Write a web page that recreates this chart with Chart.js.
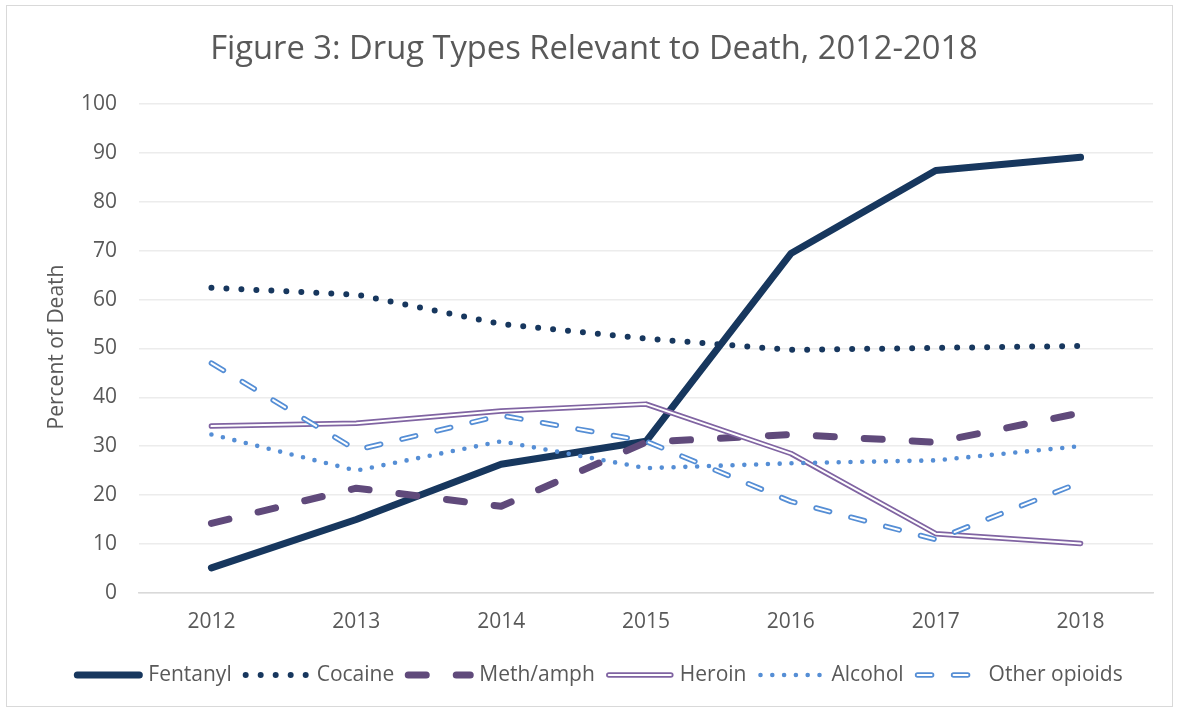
<!DOCTYPE html>
<html>
<head>
<meta charset="utf-8">
<script src="https://cdn.jsdelivr.net/npm/chart.js@4.4.1/dist/chart.umd.min.js"></script>
<style>
  body { margin: 0; background: #fff; }
  #wrap { width: 1177px; height: 711px; position: relative; }
  #frame { position: absolute; left: 6px; top: 5px; right: 4px; bottom: 4px; border: 1px solid #d9d9d9; }
</style>
</head>
<body>
<div id="wrap">
  <div id="frame"></div>
  <canvas id="myChart" width="1177" height="711"></canvas>
</div>
<script>
var years = ["2012", "2013", "2014", "2015", "2016", "2017", "2018"];
var fentanyl = [5.1, 15, 26.3, 31, 69.4, 86.4, 89.1];
var cocaine = [62.4, 61, 55, 52, 49.7, 50.1, 50.5];
var meth = [14.2, 21.4, 17.7, 30.8, 32.4, 30.8, 36.8];
var heroin = [34.1, 34.7, 37.2, 38.6, 28.5, 12.1, 10.1];
var alcohol = [32.4, 25, 31, 25.5, 26.5, 27.1, 30];
var otherOpioids = [47, 29.2, 36.3, 31, 18.7, 10.9, 22.6];
var yTicks = [0, 10, 20, 30, 40, 50, 60, 70, 80, 90, 100];

var titleText = "Figure 3: Drug Types Relevant to Death, 2012-2018";
var yTitle = "Percent of Death";
var fontName = "'Open Sans', sans-serif";
var grey = "#595959";

var navy = "#17375e";
var purpleDark = "#604a7b";
var purple = "#8064a2";
var blue = "#558ed5";

// legend entries: style drawn by the plugin below
var legendItems = [
  { label: "Fentanyl", color: navy, width: 7, dash: [] },
  { label: "Cocaine", color: navy, width: 6, dash: [0, 15] },
  { label: "Meth/amph", color: purpleDark, width: 7, dash: [18, 30] },
  { label: "Heroin", color: purple, width: 5.5, dash: [], inner: 2 },
  { label: "Alcohol", color: blue, width: 4.6, dash: [0, 11.8] },
  { label: "Other opioids", color: blue, width: 5.5, dash: [14, 22], inner: 2 }
];

const extras = {
  id: "extras",
  afterDraw(chart) {
    const ctx = chart.ctx;
    ctx.save();
    ctx.fillStyle = grey;
    ctx.textBaseline = "middle";

    // title
    ctx.font = "32.7px " + fontName;
    ctx.textAlign = "center";
    ctx.fillText(titleText, 594, 50);

    // y axis title
    ctx.save();
    ctx.translate(57, 347);
    ctx.rotate(-Math.PI / 2);
    ctx.font = "21px " + fontName;
    ctx.fillText(yTitle, 0, 0);
    ctx.restore();

    // legend
    ctx.font = "21px " + fontName;
    ctx.textAlign = "left";
    const sample = 70, gapA = 5, gapB = 10;
    let total = 0;
    legendItems.forEach(function (it) {
      total += sample + gapA + ctx.measureText(it.label).width + gapB;
    });
    let x = 603 - total / 2;
    const y = 675;
    legendItems.forEach(function (it) {
      ctx.lineCap = "round";
      ctx.strokeStyle = it.color;
      ctx.lineWidth = it.width;
      ctx.setLineDash(it.dash);
      ctx.beginPath();
      ctx.moveTo(x + 4, y);
      ctx.lineTo(x + sample - 4, y);
      ctx.stroke();
      if (it.inner) {
        ctx.strokeStyle = "#fff";
        ctx.lineWidth = it.inner;
        ctx.beginPath();
        ctx.moveTo(x + 4, y);
        ctx.lineTo(x + sample - 4, y);
        ctx.stroke();
      }
      ctx.setLineDash([]);
      ctx.fillText(it.label, x + sample + gapA, y);
      x += sample + gapA + ctx.measureText(it.label).width + gapB;
    });
    ctx.restore();
  }
};

function line(label, data, color, width, dash, order) {
  return {
    label: label,
    data: data,
    borderColor: color,
    backgroundColor: color,
    borderWidth: width,
    borderDash: dash,
    borderCapStyle: "round",
    borderJoinStyle: "round",
    pointRadius: 0,
    pointHoverRadius: 0,
    fill: false,
    tension: 0,
    order: order
  };
}

new Chart("myChart", {
  type: "line",
  data: {
    labels: years,
    datasets: [
      line("Fentanyl", fentanyl, navy, 7, [], 12),
      line("Cocaine", cocaine, navy, 6, [0, 15], 10),
      line("Meth/amph", meth, purpleDark, 7, [18, 30], 8),
      line("Heroin", heroin, purple, 5.5, [], 6),
      line("Heroin inner", heroin, "#ffffff", 2, [], 5),
      line("Alcohol", alcohol, blue, 4.6, [0, 11.8], 4),
      line("Other opioids", otherOpioids, blue, 5.5, [14, 22], 2),
      line("Other opioids inner", otherOpioids, "#ffffff", 2, [14, 22], 1)
    ]
  },
  plugins: [extras],
  options: {
    responsive: false,
    animation: false,
    devicePixelRatio: 1,
    layout: { padding: { top: 104, left: 0, right: 24, bottom: 59 } },
    plugins: {
      legend: { display: false },
      title: { display: false },
      tooltip: { enabled: false }
    },
    scales: {
      x: {
        offset: true,
        grid: { display: false, drawTicks: false, offset: true },
        border: { display: true, color: "#d9d9d9", width: 1.5 },
        ticks: { color: grey, font: { family: fontName, size: 21 }, padding: 17, maxRotation: 0 }
      },
      y: {
        min: 0,
        max: 100,
        afterFit: function (scale) { scale.width = 139; },
        afterBuildTicks: function (scale) {
          scale.ticks = yTicks.map(function (v) { return { value: v }; });
        },
        grid: { color: "#ececec", lineWidth: 1.5, drawTicks: false },
        border: { display: false },
        ticks: { color: grey, font: { family: fontName, size: 21 }, padding: 22 }
      }
    }
  }
});
</script>
</body>
</html>
